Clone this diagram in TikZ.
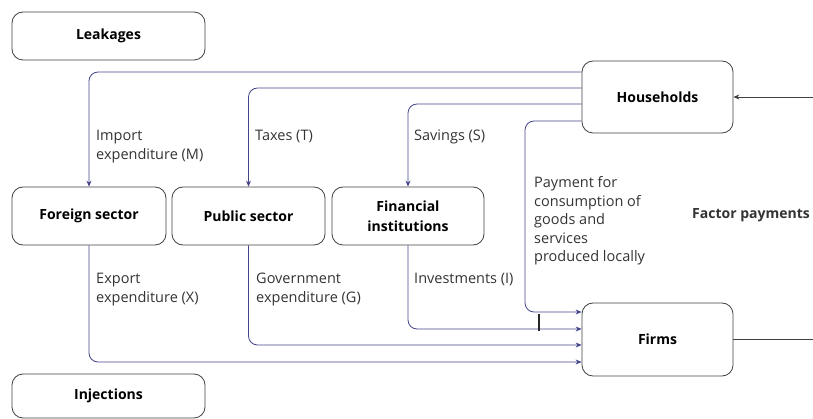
\documentclass[tikz,border=0pt]{standalone}
\usepackage{fontspec}
\setmainfont{Open Sans}
\usetikzlibrary{arrows.meta,calc}
\definecolor{flowblue}{rgb}{0.27,0.27,0.55}
\definecolor{boxline}{rgb}{0.25,0.25,0.25}
\tikzset{
  box/.style={draw=boxline, line width=0.8pt, rounded corners=11pt, font=\bfseries\fontsize{14}{20}\selectfont, align=center, inner sep=0pt},
  flow/.style={draw=flowblue, line width=0.8pt, rounded corners=9pt, -{Stealth[length=6pt,width=5pt]}},
  lab/.style={font=\fontsize{14.5}{19.5}\selectfont, align=left, inner sep=0pt, text=black!80},
}
\begin{document}
\begin{tikzpicture}[x=1pt,y=-1pt]
\useasboundingbox (0,0) rectangle (813,419);
\node[box, minimum width=193pt, minimum height=48pt] (leak) at (108.5,36) {Leakages};
\node[box, minimum width=154pt, minimum height=58pt] (fs) at (89,216) {Foreign sector};
\node[box, minimum width=153pt, minimum height=58pt] (ps) at (248.5,216) {Public sector};
\node[box, minimum width=152pt, minimum height=58pt] (fi) at (408,216) {Financial\\institutions};
\node[box, minimum width=151pt, minimum height=72pt] (hh) at (657.5,97) {Households};
\node[box, minimum width=151pt, minimum height=73pt] (firms) at (657.5,339.5) {Firms};
\node[box, minimum width=193pt, minimum height=44pt] (inj) at (108.5,396) {Injections};

% leakages from households
\draw[flow] ([yshift=25pt]hh.west) -| (fs.north);
\draw[flow] ([yshift=9pt]hh.west) -| (ps.north);
\draw[flow] ([yshift=-7pt]hh.west) -| (fi.north);
\coordinate (pv) at (525,121);
\draw[flow] ([yshift=-24pt]hh.west) -- (pv) |- ([yshift=27.5pt]firms.west);

% injections into firms
\draw[flow] (fi.south) |- ([yshift=10.5pt]firms.west);
\draw[flow] (ps.south) |- ([yshift=-5.5pt]firms.west);
\draw[flow] (fs.south) |- ([yshift=-22.5pt]firms.west);

% bridge tick
\coordinate (tk1) at (539,314);
\coordinate (tk2) at (539,331);
\draw[line width=1.8pt, black!85] (tk1) -- (tk2);

% factor payments
\coordinate (fr) at (813,339.5);
\coordinate (hr) at (813,97);
\draw[boxline, line width=0.8pt] (firms.east) -- (fr);
\draw[boxline, line width=0.8pt, -{Stealth[length=6pt,width=5pt]}] (hr) -- (hh.east);

% labels
\node[lab, anchor=north west] (lm) at (96,129.5) {Import\\expenditure (M)};
\node[lab, anchor=north west] (lt) at (255,129.5) {Taxes (T)};
\node[lab, anchor=north west] (ls) at (414,129.5) {Savings (S)};
\node[lab, anchor=north west, font=\fontsize{14.5}{18.5}\selectfont] (lp) at (534,176.5) {Payment for\\consumption of\\goods and\\services\\produced locally};
\node[lab, anchor=north west] (lx) at (96,272.5) {Export\\expenditure (X)};
\node[lab, anchor=north west] (lg) at (256,272.5) {Government\\expenditure (G)};
\node[lab, anchor=north west] (li) at (414,272.5) {Investments (I)};
\node[lab, anchor=center, font=\bfseries\fontsize{14}{18}\selectfont] (lf) at (751,215) {Factor payments};
\end{tikzpicture}
\end{document}
